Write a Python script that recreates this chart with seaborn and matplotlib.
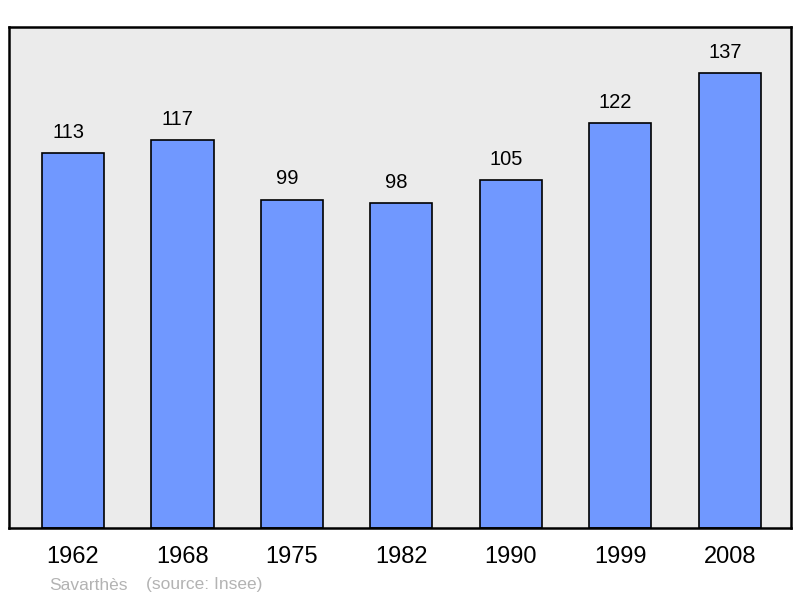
import matplotlib
matplotlib.use("Agg")
import matplotlib.pyplot as plt
import seaborn as sns
import pandas as pd

years = ["1962", "1968", "1975", "1982", "1990", "1999", "2008"]
population = [113, 117, 99, 98, 105, 122, 137]
place = "Savarthès"
source = "(source: Insee)"

sns.set_theme(style="white")
plt.rcParams["font.family"] = ["Liberation Sans", "DejaVu Sans"]

df = pd.DataFrame({"year": years, "pop": population})

fig = plt.figure(figsize=(8, 5.98), dpi=100)
ax = fig.add_axes([9/800, 70/598, 782/800, 501/598])
ax.set_facecolor("#ebebeb")

sns.barplot(data=df, x="year", y="pop", color="#7098ff", saturation=1,
            edgecolor="black", linewidth=1.2, width=0.567, ax=ax)

for bar, v in zip(ax.patches, population):
    ax.annotate(str(v), (bar.get_x() + bar.get_width() / 2, bar.get_height()),
                xytext=(-3.5, 8), textcoords="offset points",
                ha="center", va="bottom", fontsize=14.5, color="black")

ax.set_ylim(0, 151)
ax.set_xlim(-0.585, 6.56)
ax.set_yticks([])
ax.set_xlabel("")
ax.set_ylabel("")
ax.tick_params(axis="x", length=0, labelsize=17, pad=13, colors="black")
for s in ax.spines.values():
    s.set_visible(True)
    s.set_color("black")
    s.set_linewidth(1.8)

fig.text(49/800, 1 - 585/598, place, fontsize=12.5, color="#b3b3b3", va="center", ha="left")
fig.text(146/800, 1 - 585/598, source, fontsize=12.5, color="#b3b3b3", va="center", ha="left")

fig.savefig("out.png", dpi=100)
